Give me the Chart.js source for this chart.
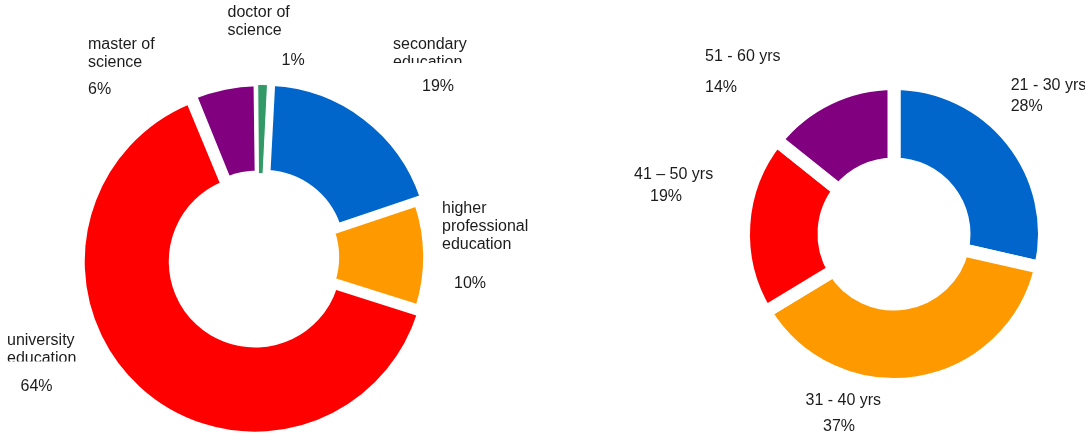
<!DOCTYPE html>
<html>
<head>
<meta charset="utf-8">
<script src="https://cdn.jsdelivr.net/npm/chart.js@4.4.1/dist/chart.umd.min.js"></script>
<style>
  html, body { margin: 0; padding: 0; background: #ffffff; }
  #wrap { position: relative; width: 1085px; height: 434px; overflow: hidden; }
  canvas { position: absolute; top: 0; }
</style>
</head>
<body>
<div id="wrap">
  <canvas id="edu" style="left:0px" width="540" height="434"></canvas>
  <canvas id="age" style="left:540px" width="545" height="434"></canvas>
</div>
<script>
// Education level
const eduCategories = [
  ['secondary', 'education'],
  ['higher', 'professional', 'education'],
  ['university', 'education'],
  ['master of', 'science'],
  ['doctor of', 'science']
];
const eduValues = [19, 10, 64, 6, 1];
const eduColors = ['#0066cc', '#ff9900', '#ff0000', '#800080', '#339966'];

// Age groups
const ageCategories = [['21 - 30 yrs'], ['31 - 40 yrs'], ['41 \u2013 50 yrs'], ['51 - 60 yrs']];
const ageValues = [28, 37, 19, 14];
const ageColors = ['#0066cc', '#ff9900', '#ff0000', '#800080'];

// Where each category label sits on its canvas (x, first baseline,
// optional bottom clip of the name block, and the position of the percentage).
const eduLabelPos = [
  { x: 393, y: 49, clip: 63, px: 422, py: 91 },
  { x: 442, y: 213, px: 454, py: 288 },
  { x: 7, y: 345, clip: 361.5, px: 20.5, py: 391 },
  { x: 88, y: 49, px: 88, py: 93.5 },
  { x: 227.5, y: 17, px: 281.5, py: 65 }
];
const ageLabelPos = [
  { x: 470.7, y: 90, px: 470.7, py: 111 },
  { x: 265.5, y: 405, px: 283, py: 430.5 },
  { x: 94, y: 179, px: 110, py: 200.7 },
  { x: 165, y: 60.7, px: 165, py: 91.7 }
];

const LINE_STEP = 18;
const FONT = '16px "Liberation Sans", Arial, Helvetica, sans-serif';

// Draws each category name and its percentage beside the ring.
const outsideLabels = {
  id: 'outsideLabels',
  afterDraw(chart, args, opts) {
    const ctx = chart.ctx;
    const ds = chart.data.datasets[0];
    const meta = chart.getDatasetMeta(0);
    ctx.save();
    ctx.font = FONT;
    ctx.fillStyle = '#1c1c1c';
    ctx.textAlign = 'left';
    ctx.textBaseline = 'alphabetic';
    meta.data.forEach((arc, i) => {
      const pos = opts.layout[i];
      const lines = chart.data.labels[i];
      ctx.save();
      if (pos.clip !== undefined) {
        ctx.beginPath();
        ctx.rect(0, 0, chart.width, pos.clip);
        ctx.clip();
      }
      lines.forEach((line, k) => ctx.fillText(line, pos.x, pos.y + k * LINE_STEP));
      ctx.restore();
      ctx.fillText(ds.data[i] + '%', pos.px, pos.py);
    });
    ctx.restore();
  }
};

function doughnut(id, categories, values, colors, extra) {
  return new Chart(document.getElementById(id), {
    type: 'doughnut',
    data: {
      labels: categories,
      datasets: [{
        data: values,
        backgroundColor: colors,
        borderColor: '#ffffff',
        borderWidth: extra.border,
        offset: extra.offset,
        hoverOffset: 0
      }]
    },
    options: {
      responsive: false,
      animation: false,
      events: [],
      rotation: extra.rotation,
      radius: extra.radius,
      cutout: extra.cutout,
      layout: { padding: extra.padding },
      plugins: {
        legend: { display: false },
        tooltip: { enabled: false },
        outsideLabels: { layout: extra.labels }
      }
    },
    plugins: [outsideLabels]
  });
}

doughnut('edu', eduCategories, eduValues, eduColors, {
  border: [5, 5, 5, 5, 1],
  offset: [32, 0, 24, 16, 12],
  rotation: 3,
  radius: 166.7,
  cutout: '46.6%',
  padding: { left: 0, right: 22, top: 80, bottom: 0 },
  labels: eduLabelPos
});

doughnut('age', ageCategories, ageValues, ageColors, {
  border: 13,
  offset: 0,
  rotation: 0,
  radius: 150.5,
  cutout: '46.5%',
  padding: { left: 163, right: 0, top: 34, bottom: 0 },
  labels: ageLabelPos
});
</script>
</body>
</html>
